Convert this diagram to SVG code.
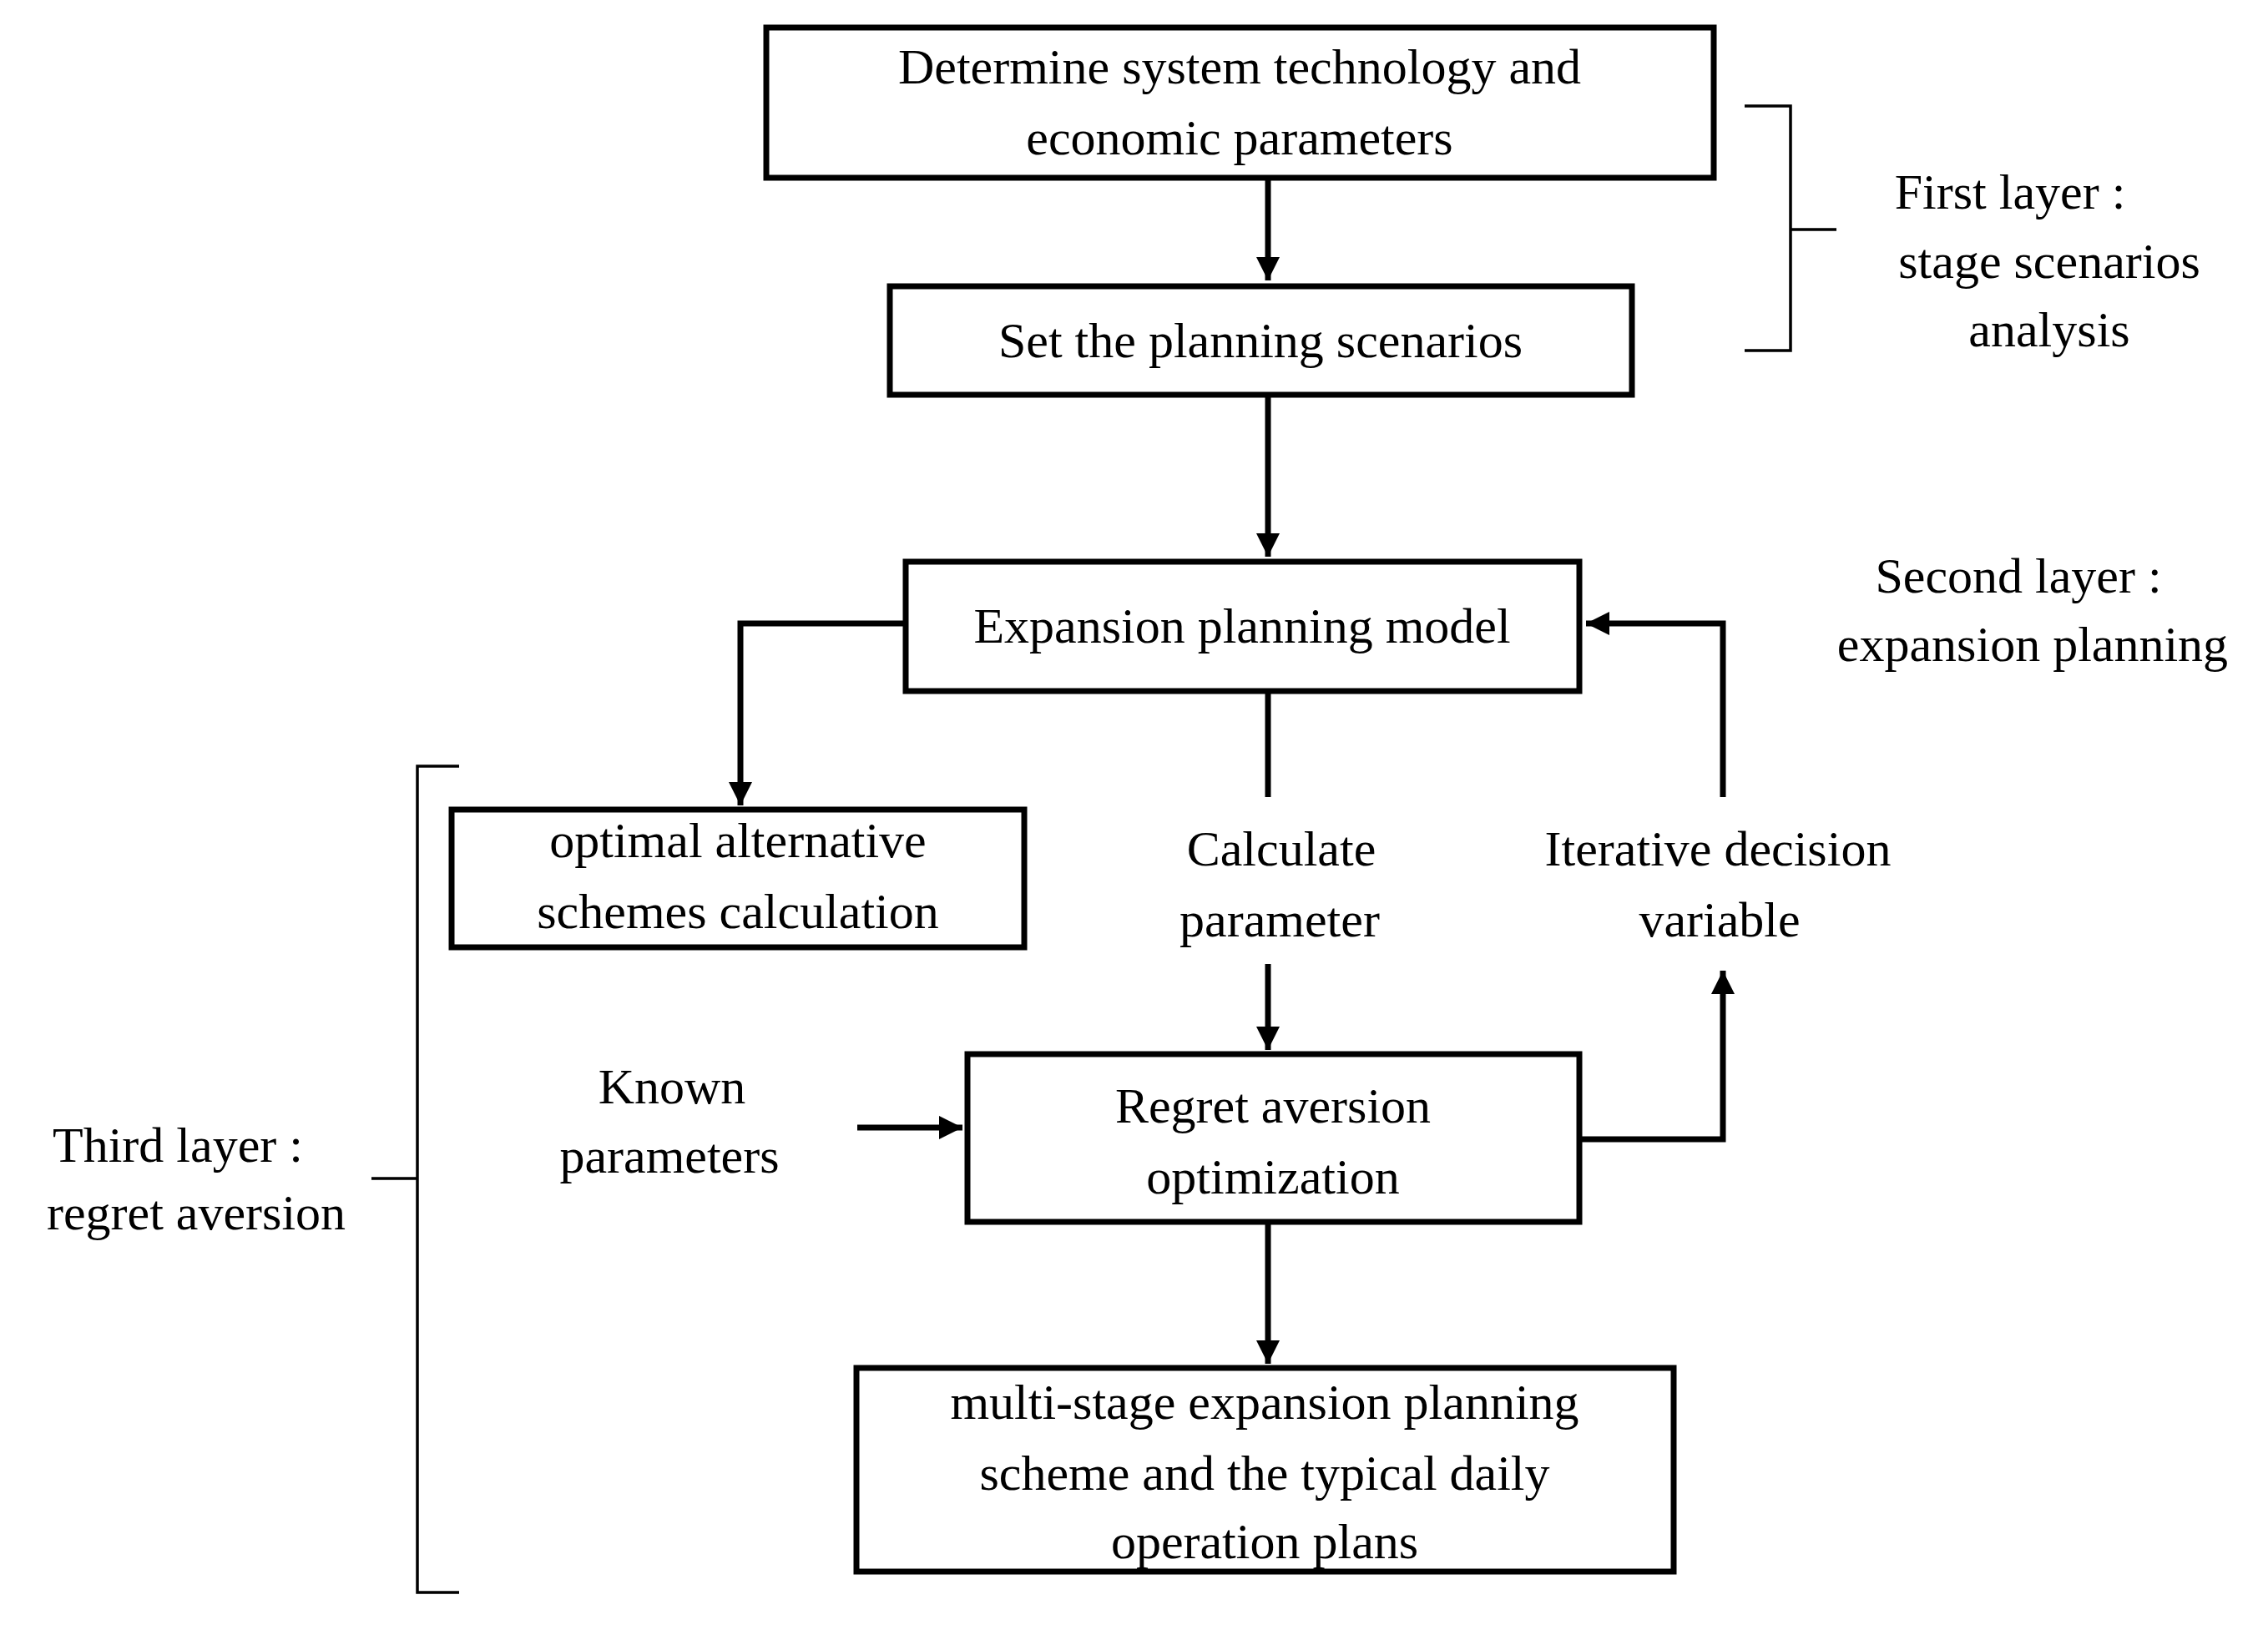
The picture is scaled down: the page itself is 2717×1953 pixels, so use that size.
<svg xmlns="http://www.w3.org/2000/svg" width="2717" height="1953" viewBox="0 0 2717 1953">
<style>
.b{fill:#fff;stroke:#000;stroke-width:7}
.l{fill:none;stroke:#000;stroke-width:7}
.g{fill:none;stroke:#000;stroke-width:3.5}
text{font-family:"Liberation Serif","Times New Roman",serif;font-size:60px;fill:#000;text-anchor:middle}
</style>
<defs><marker id="a" viewBox="0 0 10 10" refX="10" refY="5" markerWidth="4" markerHeight="4" markerUnits="strokeWidth" orient="auto"><path d="M0,0L10,5L0,10z" fill="#000"/></marker></defs>
<rect width="2717" height="1953" fill="#fff"/>
<g id="connectors">
<path class="l" d="M1519,213V336" marker-end="url(#a)"/>
<path class="l" d="M1519,473V667" marker-end="url(#a)"/>
<path class="l" d="M1085,747H887V965" marker-end="url(#a)"/>
<path class="l" d="M1519,828V955"/>
<path class="l" d="M1519,1155V1258" marker-end="url(#a)"/>
<path class="l" d="M2064,955V747H1900" marker-end="url(#a)"/>
<path class="l" d="M1892,1365H2064V1163" marker-end="url(#a)"/>
<path class="l" d="M1027,1351H1153" marker-end="url(#a)"/>
<path class="l" d="M1519,1464V1634" marker-end="url(#a)"/>
</g>
<g id="brackets">
<path class="g" d="M2090,127H2145V420H2090M2145,275H2200"/>
<path class="g" d="M550,918H500V1908H550M500,1412H445"/>
</g>
<g id="n1"><rect class="b" x="918" y="33" width="1135" height="180"/><text x="1485" y="100">Determine system technology  and</text><text x="1485" y="185">economic  parameters</text></g>
<g id="n2"><rect class="b" x="1066" y="343" width="889" height="130"/><text x="1510" y="428">Set the planning  scenarios</text></g>
<g id="n3"><rect class="b" x="1085" y="673" width="807" height="155"/><text x="1488" y="770">Expansion  planning  model</text></g>
<g id="n4"><rect class="b" x="541" y="970" width="686" height="165"/><text x="884" y="1027">optimal  alternative</text><text x="884" y="1112">schemes calculation</text></g>
<g id="n5"><rect class="b" x="1159" y="1263" width="733" height="201"/><text x="1525" y="1345">Regret aversion</text><text x="1525" y="1430">optimization</text></g>
<g id="n6"><rect class="b" x="1026" y="1639" width="979" height="244"/><text x="1515" y="1700">multi-stage  expansion  planning</text><text x="1515" y="1785">scheme and the typical  daily</text><text x="1515" y="1867">operation  plans</text></g>
<g id="labels">
<text x="1535" y="1037">Calculate</text><text x="1533" y="1122">parameter</text>
<text x="2058" y="1037">Iterative decision</text><text x="2060" y="1122">variable</text>
<text x="805" y="1322">Known</text><text x="802" y="1405">parameters</text>
<text x="2408" y="250">First layer :</text><text x="2455" y="333">stage scenarios</text><text x="2455" y="415">analysis</text>
<text x="2418" y="710">Second layer :</text><text x="2435" y="792">expansion  planning</text>
<text x="213" y="1392">Third layer :</text><text x="235" y="1473">regret aversion</text>
</g>
</svg>
